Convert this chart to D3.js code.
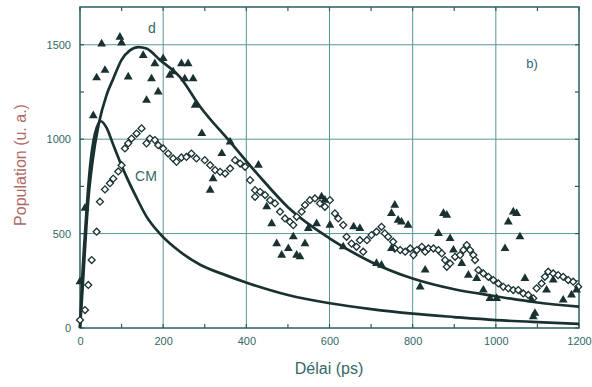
<!DOCTYPE html>
<html><head><meta charset="utf-8">
<script src="https://cdn.jsdelivr.net/npm/d3@7"></script>
<style>body{margin:0;background:#fff}svg{display:block}text{font-family:"Liberation Sans",Arial,sans-serif}</style>
</head><body><svg id="c" width="592" height="387"></svg>
<script>
const xTicks=[0,200,400,600,800,1000,1200];
const yTicks=[0,500,1000,1500];
const xMinor=[100,300,500,700,900,1100];
const yMinor=[250,750,1250];
// fitted curve "d"
const dX=[0,6,12,20,30,45,64,80,100,120,140,160,192,240,289,361,429,500,600,700,800,900,1000,1100,1200];
const dY=[0,200,420,680,880,1080,1235,1320,1420,1470,1488,1480,1420,1330,1172,986,810,640,475,350,262,205,168,135,113];
// fitted curve "CM"
const cmX=[0,5,12,24,36,50,64,80,100,136,160,192,240,289,350,401,500,601,700,800,900,1000,1100,1200];
const cmY=[0,250,500,850,1030,1095,1060,970,860,690,590,500,405,335,280,240,175,131,100,76,58,42,31,22];
// triangles (d data)
const triX=[0,12,32,40,52,60,96,100,116,152,160,172,180,188,200,216,224,244,252,260,272,277,293,313,320,341,361,429,449,461,473,485,501,513,521,529,541,549,569,581,589,601,633,658,673,713,725,749,749,757,765,773,789,818,830,862,874,882,890,898,918,934,954,970,986,1002,1022,1030,1042,1050,1058,1070,1086,1090,1094,1122,1138,1162,1182,1194];
const triY=[245,635,1125,1325,1505,1365,1540,1510,1330,1444,1206,1320,1400,1250,1427,1339,1357,1400,1320,1400,1320,1180,1030,730,791,924,986,862,642,553,447,386,421,483,386,377,447,527,553,695,677,545,430,536,527,342,333,607,421,651,571,562,545,218,307,501,607,598,474,413,342,280,263,201,157,157,421,562,615,607,483,263,148,60,78,201,254,148,175,201];
// diamonds (CM data)
const diaX=[0,12,20,28,40,48,60,72,80,92,100,108,116,124,136,148,160,168,180,188,200,212,224,232,244,256,268,280,300,313,325,337,349,361,373,385,397,409,421,421,433,445,457,469,481,493,505,513,521,533,541,553,565,577,589,601,613,621,633,641,653,665,673,681,690,701,713,725,733,741,753,757,770,782,794,802,810,822,830,838,850,862,870,878,882,890,902,914,922,930,938,946,950,958,970,982,994,1006,1018,1030,1042,1054,1066,1078,1090,1098,1110,1118,1126,1138,1150,1162,1174,1186,1198];
const diaY=[42,95,228,360,510,669,734,767,791,829,862,951,978,1003,1030,1057,978,1003,995,968,951,924,898,880,903,906,924,898,889,862,836,827,818,845,889,871,854,783,730,695,721,704,677,660,616,580,562,545,589,616,651,677,686,660,642,677,607,580,545,483,447,430,465,404,465,492,510,536,501,483,457,421,413,404,421,386,413,430,404,421,421,413,395,360,324,342,377,386,413,439,413,386,360,307,289,271,254,236,218,210,201,201,183,175,157,210,236,271,298,289,280,271,254,245,218];

const svg=d3.select("#c");
const L=80,R=579,T=7,B=328;
const x=d3.scaleLinear().domain([0,1200]).range([L,R]);
const y=d3.scaleLinear().domain([0,1700]).range([B,T]);
const gridC="#5a9696", axC="#2c5e5e", txtC="#336868", ink="#1a3131";

// gridlines
svg.append("g").selectAll("line").data(xTicks.slice(1,-1)).join("line")
 .attr("x1",d=>x(d)).attr("x2",d=>x(d)).attr("y1",T).attr("y2",B)
 .attr("stroke",gridC).attr("stroke-width",1);
svg.append("g").selectAll("line").data(yTicks.slice(1)).join("line")
 .attr("x1",L).attr("x2",R).attr("y1",d=>y(d)).attr("y2",d=>y(d))
 .attr("stroke",gridC).attr("stroke-width",1);

// axis labels
const xb=svg.append("g").attr("transform",`translate(0,${B})`);
xb.call(d3.axisBottom(x).tickValues(xTicks).tickSize(0).tickPadding(9).tickFormat(d3.format("d")));
xb.select(".domain").remove();
xb.selectAll("text").attr("font-size",11).attr("fill",txtC).attr("font-family","Liberation Sans, Arial, sans-serif");
const yl=svg.append("g").attr("transform",`translate(${L},0)`);
yl.call(d3.axisLeft(y).tickValues(yTicks).tickSize(0).tickPadding(9).tickFormat(d3.format("d")));
yl.select(".domain").remove();
yl.selectAll("text").attr("font-size",11).attr("fill",txtC).attr("font-family","Liberation Sans, Arial, sans-serif");

// inward ticks
const tk=svg.append("g").attr("stroke",axC).attr("stroke-width",1.2);
xMinor.concat(xTicks).forEach(v=>{
  tk.append("line").attr("x1",x(v)).attr("x2",x(v)).attr("y1",B).attr("y2",B-4);
  tk.append("line").attr("x1",x(v)).attr("x2",x(v)).attr("y1",T).attr("y2",T+4);
});
yMinor.concat(yTicks).forEach(v=>{
  tk.append("line").attr("x1",L).attr("x2",L+4).attr("y1",y(v)).attr("y2",y(v));
  tk.append("line").attr("x1",R).attr("x2",R-4).attr("y1",y(v)).attr("y2",y(v));
});

// frame
svg.append("rect").attr("x",L).attr("y",T).attr("width",R-L).attr("height",B-T)
 .attr("fill","none").attr("stroke",axC).attr("stroke-width",1.5);

// curves
const line=d3.line().x(d=>x(d[0])).y(d=>y(d[1])).curve(d3.curveMonotoneX);
svg.append("path").attr("d",line(dX.map((v,i)=>[v,dY[i]]))).attr("fill","none").attr("stroke",ink).attr("stroke-width",2.7);
svg.append("path").attr("d",line(cmX.map((v,i)=>[v,cmY[i]]))).attr("fill","none").attr("stroke",ink).attr("stroke-width",2.7);

// diamonds
const sq=d3.symbol().type(d3.symbolSquare).size(24);
svg.append("g").selectAll("path").data(diaX.map((v,i)=>[v,diaY[i]])).join("path")
 .attr("d",sq).attr("transform",d=>`translate(${x(d[0])},${y(d[1])}) rotate(45)`)
 .attr("fill","#fff").attr("stroke",ink).attr("stroke-width",1.3);
// triangles
const tri=d3.symbol().type(d3.symbolTriangle).size(34);
svg.append("g").selectAll("path").data(triX.map((v,i)=>[v,triY[i]])).join("path")
 .attr("d",tri).attr("transform",d=>`translate(${x(d[0])},${y(d[1])})`)
 .attr("fill",ink);

// labels
svg.append("text").attr("x",152).attr("y",33).attr("text-anchor","middle").attr("font-size",14).attr("fill",txtC).text("d");
svg.append("text").attr("x",146).attr("y",181).attr("text-anchor","middle").attr("font-size",14).attr("fill",txtC).text("CM");
svg.append("text").attr("x",532).attr("y",68).attr("text-anchor","middle").attr("font-size",13).attr("fill",txtC).text("b)");
svg.append("text").attr("x",329).attr("y",374).attr("text-anchor","middle").attr("font-size",16).attr("fill",txtC).text("Délai (ps)");
svg.append("text").attr("transform","translate(26,165) rotate(-90)").attr("text-anchor","middle").attr("font-size",16).attr("fill","#b06a66").text("Population (u. a.)");
</script></body></html>
